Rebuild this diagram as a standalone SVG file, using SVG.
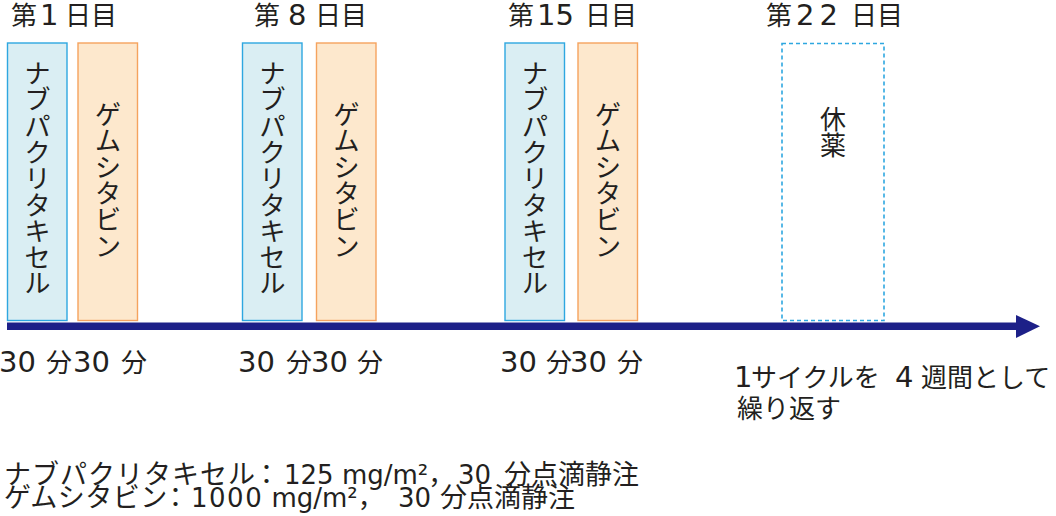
<svg xmlns="http://www.w3.org/2000/svg" width="1056" height="516" viewBox="0 0 1056 516">
<style>
.t{font-family:"Noto Sans CJK JP","Noto Sans CJK SC",sans-serif;fill:#231f20;font-size:26px}
.n{font-family:"DejaVu Sans","Noto Sans CJK JP",sans-serif;font-size:29px}
.bn{font-family:"DejaVu Sans","Noto Sans CJK JP",sans-serif;font-size:26px}
.k{font-size:27px}
.nab{fill:#daeef3;stroke:#2ea7e0;stroke-width:1.4}
.gem{fill:#fde8cd;stroke:#f5a35e;stroke-width:1.4}
.rest{fill:none;stroke:#2ea7e0;stroke-width:1.6;stroke-dasharray:4 3}
.v{text-anchor:middle}
</style>
<rect width="1056" height="516" fill="#ffffff"/>
<g id="headings">
<text class="t" y="24.5"><tspan x="11">第 </tspan><tspan class="n" x="40">1 </tspan><tspan x="65">日目</tspan></text>
<text class="t" y="24.5"><tspan x="254">第 </tspan><tspan class="n" x="288">8 </tspan><tspan x="315">日目</tspan></text>
<text class="t" y="24.5"><tspan x="508">第 </tspan><tspan class="n" x="537">15 </tspan><tspan x="585">日目</tspan></text>
<text class="t" y="24.5"><tspan x="766">第 </tspan><tspan class="n" x="796" letter-spacing="5">22 </tspan><tspan x="851">日目</tspan></text>
</g>
<g id="day1-nab">
<rect class="nab" x="7.5" y="43" width="59.5" height="277.5"/>
<text class="t v" x="37.5" y="83"><tspan x="37.5">ナ</tspan><tspan x="37.5" dy="26.3">ブ</tspan><tspan x="37.5" dy="26.3">パ</tspan><tspan x="37.5" dy="26.3">ク</tspan><tspan x="37.5" dy="26.3">リ</tspan><tspan x="37.5" dy="26.3">タ</tspan><tspan x="37.5" dy="26.3">キ</tspan><tspan x="37.5" dy="26.3">セ</tspan><tspan x="37.5" dy="26.3">ル</tspan></text>
</g>
<g id="day1-gem">
<rect class="gem" x="78" y="43" width="59.5" height="277.5"/>
<text class="t v" x="108" y="124"><tspan x="108">ゲ</tspan><tspan x="108" dy="26.3">ム</tspan><tspan x="108" dy="26.3">シ</tspan><tspan x="108" dy="26.3">タ</tspan><tspan x="108" dy="26.3">ビ</tspan><tspan x="108" dy="26.3">ン</tspan></text>
</g>
<g id="day8-nab">
<rect class="nab" x="242.5" y="43" width="59.5" height="277.5"/>
<text class="t v" x="272.5" y="83"><tspan x="272.5">ナ</tspan><tspan x="272.5" dy="26.3">ブ</tspan><tspan x="272.5" dy="26.3">パ</tspan><tspan x="272.5" dy="26.3">ク</tspan><tspan x="272.5" dy="26.3">リ</tspan><tspan x="272.5" dy="26.3">タ</tspan><tspan x="272.5" dy="26.3">キ</tspan><tspan x="272.5" dy="26.3">セ</tspan><tspan x="272.5" dy="26.3">ル</tspan></text>
</g>
<g id="day8-gem">
<rect class="gem" x="316.5" y="43" width="59.5" height="277.5"/>
<text class="t v" x="346.5" y="124"><tspan x="346.5">ゲ</tspan><tspan x="346.5" dy="26.3">ム</tspan><tspan x="346.5" dy="26.3">シ</tspan><tspan x="346.5" dy="26.3">タ</tspan><tspan x="346.5" dy="26.3">ビ</tspan><tspan x="346.5" dy="26.3">ン</tspan></text>
</g>
<g id="day15-nab">
<rect class="nab" x="505" y="43" width="59.5" height="277.5"/>
<text class="t v" x="535" y="83"><tspan x="535">ナ</tspan><tspan x="535" dy="26.3">ブ</tspan><tspan x="535" dy="26.3">パ</tspan><tspan x="535" dy="26.3">ク</tspan><tspan x="535" dy="26.3">リ</tspan><tspan x="535" dy="26.3">タ</tspan><tspan x="535" dy="26.3">キ</tspan><tspan x="535" dy="26.3">セ</tspan><tspan x="535" dy="26.3">ル</tspan></text>
</g>
<g id="day15-gem">
<rect class="gem" x="578" y="43" width="59.5" height="277.5"/>
<text class="t v" x="608" y="124"><tspan x="608">ゲ</tspan><tspan x="608" dy="26.3">ム</tspan><tspan x="608" dy="26.3">シ</tspan><tspan x="608" dy="26.3">タ</tspan><tspan x="608" dy="26.3">ビ</tspan><tspan x="608" dy="26.3">ン</tspan></text>
</g>
<g id="day22-rest">
<rect class="rest" x="782" y="43.5" width="102" height="277"/>
<text class="t v" x="833" y="129"><tspan x="833">休</tspan><tspan x="833" dy="26">薬</tspan></text>
</g>
<g id="connectors">
<line x1="7" y1="326.3" x2="1018" y2="326.3" stroke="#1d2088" stroke-width="7.4"/>
<polygon points="1016,315 1040,326.3 1016,338" fill="#1d2088"/>
</g>
<g id="durations">
<text class="t" y="372"><tspan class="n" x="-1">30 </tspan><tspan x="46">分</tspan><tspan class="n" x="73">30 </tspan><tspan x="121">分</tspan></text>
<text class="t" y="372"><tspan class="n" x="238">30 </tspan><tspan x="286">分</tspan><tspan class="n" x="311">30 </tspan><tspan x="357">分</tspan></text>
<text class="t" y="372"><tspan class="n" x="500">30 </tspan><tspan x="546">分</tspan><tspan class="n" x="570">30 </tspan><tspan x="617">分</tspan></text>
</g>
<g id="cycle-note">
<text class="t" y="387"><tspan class="n" x="734">1</tspan><tspan x="751">サイクルを </tspan><tspan class="n" x="895">4 </tspan><tspan x="921">週間として</tspan></text>
<text class="t" x="737" y="418">繰り返す</text>
</g>
<g id="dose-note">
<text class="t" y="484"><tspan class="k" x="4" letter-spacing="1">ナブパクリタキセル</tspan><tspan class="k" x="253">：</tspan><tspan class="bn" x="284">125 mg/m²，</tspan><tspan class="bn" x="458" font-size="27">30 </tspan><tspan class="k" x="504">分点滴静注</tspan></text>
<text class="t" y="507"><tspan class="k" x="4" letter-spacing="0.5">ゲムシタビン</tspan><tspan class="k" x="162">：</tspan><tspan class="bn" x="191" letter-spacing="1.5">1000</tspan><tspan class="bn"> mg/m²，</tspan><tspan class="bn" x="398" font-size="27">30 </tspan><tspan class="k" x="440">分点滴静注</tspan></text>
</g>
</svg>
